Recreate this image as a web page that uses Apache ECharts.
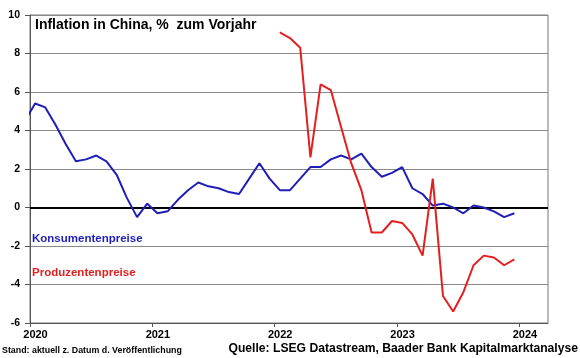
<!DOCTYPE html>
<html>
<head>
<meta charset="utf-8">
<script src="https://cdn.jsdelivr.net/npm/echarts@6/dist/echarts.min.js"></script>
<style>html,body{margin:0;padding:0;background:#fff}#c{width:580px;height:358px}</style>
</head>
<body>
<div id="c"></div>
<script>
// Months (YYYY-MM) and values
const cpiMonths = ['2019-12','2020-01','2020-02','2020-03','2020-04','2020-05','2020-06','2020-07','2020-08','2020-09','2020-10','2020-11','2020-12',
  '2021-01','2021-02','2021-03','2021-04','2021-05','2021-06','2021-07','2021-08','2021-09','2021-10','2021-11','2021-12',
  '2022-01','2022-02','2022-03','2022-04','2022-05','2022-06','2022-07','2022-08','2022-09','2022-10','2022-11','2022-12',
  '2023-01','2023-02','2023-03','2023-04','2023-05','2023-06','2023-07','2023-08','2023-09','2023-10','2023-11','2023-12'];
const cpiValues = [4.5,5.4,5.2,4.3,3.3,2.4,2.5,2.7,2.4,1.7,0.5,-0.5,0.2,
  -0.3,-0.2,0.4,0.9,1.3,1.1,1.0,0.8,0.7,1.5,2.3,1.5,
  0.9,0.9,1.5,2.1,2.1,2.5,2.7,2.5,2.8,2.1,1.6,1.8,
  2.1,1.0,0.7,0.1,0.2,0.0,-0.3,0.1,0.0,-0.2,-0.5,-0.3];
const ppiMonths = ['2022-01','2022-02','2022-03','2022-04','2022-05','2022-06','2022-07','2022-08','2022-09','2022-10','2022-11','2022-12',
  '2023-01','2023-02','2023-03','2023-04','2023-05','2023-06','2023-07','2023-08','2023-09','2023-10','2023-11','2023-12'];
const ppiValues = [9.1,8.8,8.3,2.6,6.4,6.1,4.2,2.3,0.9,-1.3,-1.3,-0.7,
  -0.8,-1.4,-2.5,1.5,-4.6,-5.4,-4.4,-3.0,-2.5,-2.6,-3.0,-2.7];
const yearLabels = ['2020','2021','2022','2023','2024'];
const titleText = 'Inflation in China, %  zum Vorjahr';
const cpiName = 'Konsumentenpreise';
const ppiName = 'Produzentenpreise';
const noteLeft = 'Stand: aktuell z. Datum d. Veröffentlichung';
const noteRight = 'Quelle: LSEG Datastream, Baader Bank Kapitalmarktanalyse';

// month index since Jan 2020, plotted mid-month
function mIdx(s){ const p = s.split('-'); return (+p[0]-2020)*12 + (+p[1]-1) + 0.5; }
const cpiData = cpiMonths.map((m,i)=>[mIdx(m), cpiValues[i]]);
const ppiData = ppiMonths.map((m,i)=>[mIdx(m), ppiValues[i]]);

const FF = "'Liberation Sans', Arial, sans-serif";
const BLUE = '#1f1fb8', RED = '#e3201f';
const chart = echarts.init(document.getElementById('c'), null, {renderer:'canvas'});
chart.setOption({
  animation:false,
  backgroundColor:'#fff',
  title:{text:titleText,left:35,top:18,padding:0,textStyle:{fontFamily:FF,fontSize:14,fontWeight:'bold',color:'#000'}},
  grid:{left:30,top:15,right:32,bottom:35,show:true,borderColor:'#777',borderWidth:1,backgroundColor:'transparent'},
  xAxis:{type:'value',min:0,max:50.8,interval:12,
    axisLine:{show:true,onZero:false,lineStyle:{color:'#555',width:1}},
    axisTick:{show:true,length:4,lineStyle:{color:'#555'}},
    splitLine:{show:false},
    axisLabel:{show:true,margin:6,padding:[0,0,0,11],fontFamily:FF,fontSize:11,fontWeight:'bold',color:'#000',
      showMaxLabel:false,
      formatter:(v)=>yearLabels[Math.round(v/12)]||''}},
  yAxis:{type:'value',min:-6,max:10,interval:2,
    axisLine:{show:true,lineStyle:{color:'#555',width:1}},
    axisTick:{show:true,length:5,lineStyle:{color:'#555'}},
    splitLine:{show:true,lineStyle:{color:'#8a8a8a',width:1}},
    axisLabel:{margin:10,fontFamily:FF,fontSize:10.5,fontWeight:'bold',color:'#000'}},
  series:[
    {name:cpiName,type:'line',data:cpiData,showSymbol:false,symbol:'none',clip:true,
      lineStyle:{color:BLUE,width:2},z:3,
      markLine:{silent:true,symbol:'none',label:{show:false},lineStyle:{color:'#000',width:2,type:'solid'},data:[{yAxis:0}],z:2}},
    {name:ppiName,type:'line',data:ppiData,showSymbol:false,symbol:'none',clip:true,
      lineStyle:{color:RED,width:2},z:4}
  ],
  graphic:[
    {type:'text',left:32,top:233,style:{text:cpiName,fontFamily:FF,fontSize:11.5,fontWeight:'bold',fill:BLUE}},
    {type:'text',left:32,top:267,style:{text:ppiName,fontFamily:FF,fontSize:11.5,fontWeight:'bold',fill:RED}},
    {type:'text',left:2,top:346,style:{text:noteLeft,fontFamily:FF,fontSize:8.85,fontWeight:'bold',fill:'#000'}},
    {type:'text',right:2,top:343,style:{text:noteRight,fontFamily:FF,fontSize:12.15,fontWeight:'bold',fill:'#000'}}
  ]
});
</script>
</body>
</html>
